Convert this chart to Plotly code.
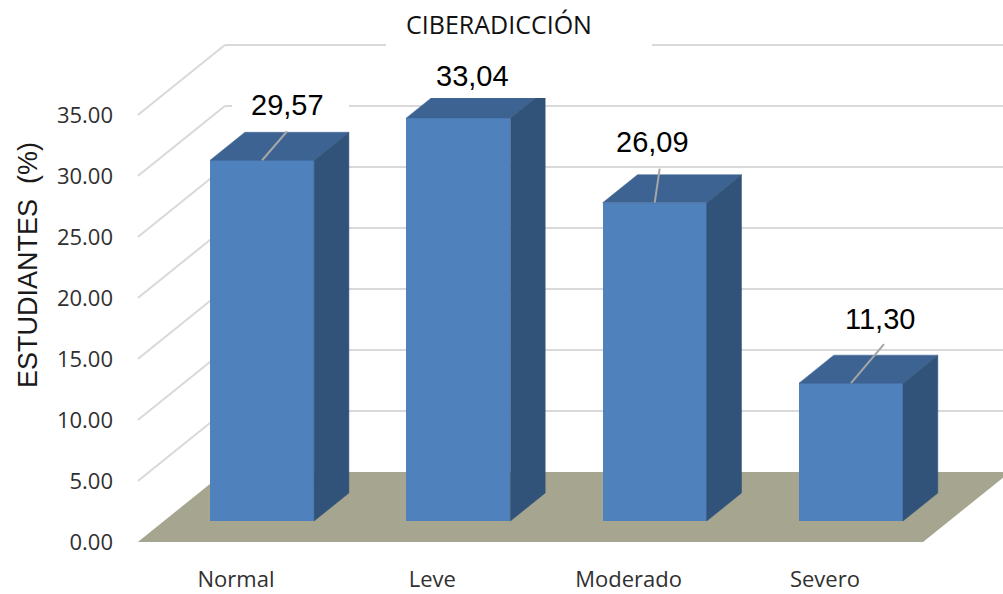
import plotly.graph_objects as go

# --- data ---
categories = ["Normal", "Leve", "Moderado", "Severo"]
values = [29.57, 33.04, 26.09, 11.30]
y_ticks = [0, 5, 10, 15, 20, 25, 30, 35]
chart_title = "CIBERADICCIÓN"
y_title = "ESTUDIANTES\u00a0\u00a0(%)"

# --- geometry of the oblique projection ---
W, H = 1003, 594
PX_CAT = 196.3          # pixels per category
PX_VAL = 12.2           # pixels per value unit
X0_PX, Y0_PX = 236, 542 # pixel position of category 0 / value 0 on the front plane
LEFT = 130
DX = 87 / PX_CAT        # full depth in category units
DY = 70 / PX_VAL        # full depth in value units
D_FRONT, D_BACK = 0.30, 0.70
HALF = 52 / PX_CAT
LABEL_SHIFT = [(25, 55), (14, 42), (-2, 61), (29, 64)]
LEADER_END = [(25, 29), (None, None), (5, 34), (33, 39)]

BLUE, TOP, SIDE = "#4F81BD", "#3C6391", "#325379"
FLOOR, GRID, LEADER = "#A6A590", "#D9D9D9", "#A6A6A6"


def P(c, v, d=0.0):
    return c + d * DX, v + d * DY


def px(xp, yp):
    return (xp - X0_PX) / PX_CAT, (Y0_PX - yp) / PX_VAL


def poly(points, color):
    xs = [p[0] for p in points] + [points[0][0]]
    ys = [p[1] for p in points] + [points[0][1]]
    return go.Scatter(x=xs, y=ys, mode="lines", fill="toself", fillcolor=color,
                      line=dict(color=color, width=0.5), hoverinfo="skip", showlegend=False)


def path(points):
    return "M " + " L ".join(f"{x},{y}" for x, y in points) + " Z"


fig = go.Figure()
n = len(categories)
shapes = []

# floor
c_l, c_r = -0.5, n - 0.5
shapes.append(dict(type="path", path=path([P(c_l, 0), P(c_r, 0), P(c_r, 0, 1), P(c_l, 0, 1)]),
                   fillcolor=FLOOR, line=dict(width=0), layer="below"))
# gridlines: side wall and back wall
for t in y_ticks[1:]:
    a, b = P(c_l, t), P(c_l, t, 1)
    shapes.append(dict(type="line", x0=a[0], y0=a[1], x1=b[0], y1=b[1],
                       line=dict(color=GRID, width=2), layer="below"))
    e = P(c_r, t, 1)
    shapes.append(dict(type="line", x0=b[0], y0=b[1], x1=e[0], y1=e[1],
                       line=dict(color=GRID, width=2), layer="below"))

# front faces
base = DY * D_FRONT
fig.add_trace(go.Bar(x=[i + DX * D_FRONT for i in range(n)], y=values, base=[base] * n,
                     width=2 * HALF, marker=dict(color=BLUE, line=dict(width=0)),
                     hoverinfo="skip", showlegend=False))

annotations = []
for i, v in enumerate(values):
    l, r = i - HALF, i + HALF
    fig.add_trace(poly([P(l, v, D_FRONT), P(r, v, D_FRONT), P(r, v, D_BACK), P(l, v, D_BACK)], TOP))
    fig.add_trace(poly([P(r, 0, D_FRONT), P(r, 0, D_BACK), P(r, v, D_BACK), P(r, v, D_FRONT)], SIDE))
    cx, cy = P(i, v, D_FRONT)
    end = LEADER_END[i]
    if end[0] is not None:
        fig.add_trace(go.Scatter(x=[cx, cx + end[0] / PX_CAT], y=[cy, cy + end[1] / PX_VAL],
                                 mode="lines", line=dict(color=LEADER, width=2),
                                 hoverinfo="skip", showlegend=False))
    annotations.append(dict(x=cx, y=cy, xref="x", yref="y", xshift=LABEL_SHIFT[i][0],
                            yshift=LABEL_SHIFT[i][1], showarrow=False,
                            text=f"{v:.2f}".replace(".", ","),
                            font=dict(family="Liberation Sans", size=29, color="#000000")))

# white label backgrounds that mask the chart behind the text
for x0, y0, x1, y1 in [(386, 8, 652, 47), (232, 88, 349, 131), (398, 58, 552, 98), (597, 125, 731, 165)]:
    a, b = px(x0, y0), px(x1, y1)
    shapes.append(dict(type="rect", x0=a[0], y0=a[1], x1=b[0], y1=b[1],
                       fillcolor="#FFFFFF", line=dict(width=0), layer="above"))

annotations.append(dict(x=(28 - LEFT) / (W - LEFT), y=(Y0_PX - 265) / Y0_PX, xref="paper", yref="paper",
                        xanchor="center", yanchor="middle", showarrow=False, text=y_title,
                        textangle=-90, font=dict(family="Liberation Sans", size=27, color="#1A1A1A")))

fig.update_layout(
    width=W, height=H, autosize=False, bargap=0,
    margin=dict(l=LEFT, r=0, t=0, b=H - Y0_PX, pad=0),
    paper_bgcolor="#FFFFFF", plot_bgcolor="#FFFFFF",
    title=dict(text=chart_title, x=499 / W, y=1 - 25 / H, xanchor="center", yanchor="middle",
               font=dict(family="Open Sans", size=25, color="#111111")),
    xaxis=dict(range=[(LEFT - X0_PX) / PX_CAT, (W - X0_PX) / PX_CAT],
               tickvals=list(range(n)), ticktext=categories, showgrid=False, zeroline=False,
               showline=False, ticks="", ticklabelstandoff=22,
               tickfont=dict(family="Open Sans", size=22, color="#303030")),
    yaxis=dict(range=[0, Y0_PX / PX_VAL], tickvals=y_ticks, tickformat=".2f", showgrid=False,
               zeroline=False, showline=False, ticks="", ticklabelstandoff=16,
               tickfont=dict(family="Open Sans", size=22, color="#303030")),
    shapes=shapes, annotations=annotations,
)

fig.write_html("out.html", config={"displayModeBar": False},
               post_script="document.body.style.margin='0';document.body.style.overflow='hidden';")
